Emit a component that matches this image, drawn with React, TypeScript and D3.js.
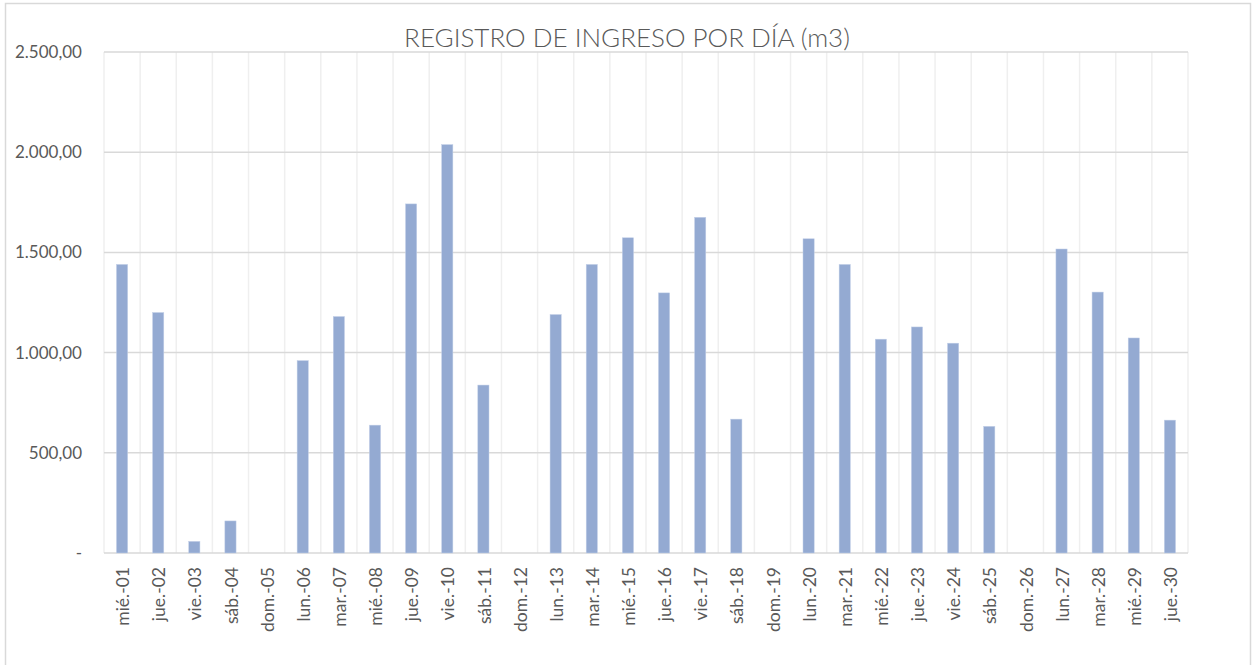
import * as d3 from "d3";

const days = [
  "mié.-01", "jue.-02", "vie.-03", "sáb.-04", "dom.-05", "lun.-06", "mar.-07", "mié.-08",
  "jue.-09", "vie.-10", "sáb.-11", "dom.-12", "lun.-13", "mar.-14", "mié.-15", "jue.-16",
  "vie.-17", "sáb.-18", "dom.-19", "lun.-20", "mar.-21", "mié.-22", "jue.-23", "vie.-24",
  "sáb.-25", "dom.-26", "lun.-27", "mar.-28", "mié.-29", "jue.-30",
];

const ingreso = [
  1440, 1200, 58, 160, 0, 960, 1180, 638, 1742, 2038, 838, 0, 1190, 1440, 1573,
  1298, 1675, 668, 0, 1568, 1440, 1067, 1128, 1047, 632, 0, 1517, 1302, 1073, 663,
];

const yTicks = [0, 500, 1000, 1500, 2000, 2500];

const title = "REGISTRO DE INGRESO POR DÍA (m3)";

const fmt = (v: number) =>
  v === 0
    ? "-"
    : d3.formatLocale({ decimal: ",", thousands: ".", grouping: [3], currency: ["", ""] }).format(",.2f")(v);

export default function App() {
  const width = 1256;
  const height = 665;
  const plot = { left: 104, right: 1188, top: 52, bottom: 553 };
  const font = "Lato, 'Noto Sans', sans-serif";
  const textColor = "#595959";

  const x = d3.scaleBand<string>()
    .domain(days)
    .range([plot.left, plot.right])
    .paddingInner(0)
    .paddingOuter(0);

  const y = d3.scaleLinear().domain([0, 2500]).range([plot.bottom, plot.top]);

  const barW = x.bandwidth() * 0.31;

  return (
    <svg
      width={width}
      height={height}
      style={{ position: "absolute", left: 0, top: 0, background: "#fff" }}
      fontFamily={font}
    >
      {/* chart frame */}
      <rect x={5.5} y={3.5} width={1245} height={670} fill="#fff" stroke="#d9d9d9" strokeWidth={1.5} />

      {/* title */}
      <text x={627} y={47} textAnchor="middle" fontSize={26} fontWeight={300} fill={textColor}>
        {title}
      </text>

      {/* vertical gridlines */}
      {d3.range(days.length + 1).map(i => {
        const gx = i < days.length ? x(days[i])! : plot.right;
        return (
          <line key={i} x1={gx} x2={gx} y1={plot.top} y2={plot.bottom} stroke="#efefef" strokeWidth={1.5} />
        );
      })}

      {/* horizontal gridlines + y labels */}
      {yTicks.map(t => (
        <g key={t}>
          <line x1={plot.left} x2={plot.right} y1={y(t)} y2={y(t)} stroke="#d9d9d9" strokeWidth={1.5} />
          <text x={82} y={y(t)} dy="0.35em" textAnchor="end" fontSize={17} fill={textColor}>
            {fmt(t)}
          </text>
        </g>
      ))}

      {/* bars */}
      {ingreso.map((v, i) => {
        const cx = x(days[i])! + x.bandwidth() / 2;
        return (
          <rect
            key={days[i]}
            x={cx - barW / 2}
            y={y(v)}
            width={barW}
            height={y(0) - y(v)}
            fill="#94aad2"
            stroke="#c3d0e8"
            strokeWidth={0.5}
          />
        );
      })}

      {/* x labels */}
      {days.map(d => {
        const cx = x(d)! + x.bandwidth() / 2;
        return (
          <text
            key={d}
            transform={`translate(${cx + 1},567) rotate(-90)`}
            dy="0.35em"
            textAnchor="end"
            fontSize={17.5}
            fill={textColor}
          >
            {d}
          </text>
        );
      })}
    </svg>
  );
}
